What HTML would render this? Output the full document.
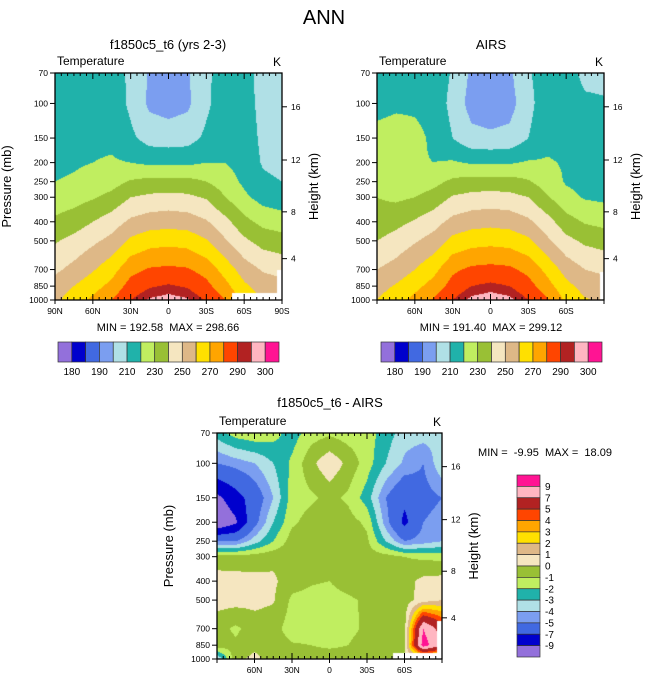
<!DOCTYPE html>
<html><head><meta charset="utf-8">
<style>
html,body{margin:0;padding:0;background:#fff;}
#wrap{position:relative;width:648px;height:684px;overflow:hidden;font-family:"Liberation Sans",sans-serif;}
canvas{position:absolute;}
svg{position:absolute;left:0;top:0;}
text{white-space:pre;}
</style></head>
<body>
<div id="wrap">
<canvas id="c1"></canvas>
<canvas id="c2"></canvas>
<canvas id="c3"></canvas>
<svg id="s" width="648" height="684"></svg>
</div>
<script>
// ---- data ----
const lats=[90,75,60,45,30,15,0,-15,-30,-45,-60,-75,-90];
const pLevels=[70,100,150,200,250,300,400,500,700,850,1000];
const modelT=[
[214,214,215,215,208,199,198,199,208,215,214,206,205],
[214,215,216,216,208,198,196,198,208,216,214,207,206],
[216,217,218,218,212,206,205,206,212,217,215,208,206],
[218,219,220,221,220,218,218,218,220,220,216,209,207],
[220,221,223,226,231,233,233,233,230,225,218,212,210],
[224,226,229,233,240,242,243,242,239,230,222,216,214],
[232,235,240,245,252,255,256,255,251,243,233,227,225],
[239,243,248,253,262,266,267,266,261,251,242,236,234],
[248,253,259,266,277,281,282,281,276,266,255,249,247],
[254,260,266,273,284,289,291,289,283,273,262,255,253],
[258,265,272,280,290,296,298,296,289,280,267,260,258]];
const airsT=[
[215,215,216,216,209,198,196,198,209,215,215,207,207],
[216,218,218,216,207,196,194,196,207,216,216,212,211],
[224,225,223,218,210,203,202,203,210,217,218,216,215],
[225,225,221,220,221,219,219,219,221,221,219,217,216],
[225,223,224,227,232,234,234,234,231,225,219,217,216],
[230,228,230,234,241,243,244,243,240,231,223,219,218],
[234,237,241,246,253,256,257,256,252,244,234,229,227],
[240,244,249,254,263,266,267,266,262,252,243,238,236],
[250,254,260,267,278,282,283,282,277,267,256,250,248],
[256,261,267,274,284,290,292,290,284,274,263,256,254],
[260,266,273,281,290,297,299,297,290,281,268,261,258]];
const diffT=[
[-2.5,-1.5,-1.2,-1.6,-2.5,-1.5,-1.2,-1.5,-1.5,-2.5,-3.5,-3.5,-3.8],
[-5,-4.5,-4,-3,-1.8,-0.3,0.8,-0.3,-1.5,-3,-4.2,-5,-3.2],
[-9.5,-7.8,-6,-4,-1.5,-1.2,-0.7,-1.2,-2.5,-5,-6.5,-5.5,-5],
[-11,-9.3,-5.5,-3,-1.2,-0.6,-0.5,-0.6,-1.2,-4.5,-7.5,-5,-4.5],
[-5,-5,-3.5,-2,-0.5,-0.4,-0.3,-0.4,-0.8,-3,-5,-4.5,-4],
[-0.5,-0.6,-0.5,-0.3,-0.4,-0.5,-0.4,-0.6,-0.5,-0.6,-1,-1.2,-1.3],
[0.4,0.4,0.3,0.2,-0.6,-0.9,-1,-0.5,-0.3,-0.6,-0.4,0.3,0.4],
[0.4,0.4,0.3,0.1,-1.2,-1.3,-1.4,-1.2,-0.8,-0.6,-0.5,0.5,1],
[-0.6,-1.2,-0.5,-0.6,-1.5,-1.4,-1.2,-1.3,-0.8,-0.5,-0.4,9,6],
[-0.4,-0.8,-0.3,-0.5,-0.9,-1.0,-1.2,-1.0,-0.5,-0.3,-0.2,10,7],
[-4,-0.3,0.3,-0.5,-0.3,-0.5,-0.4,-0.5,-0.4,-0.2,0,0,0]];
const tLevels=[180,185,190,200,210,220,230,240,250,260,270,280,290,295,300];
const tLabels=["180","190","210","230","250","270","290","300"];
const tLabelIdx=[0,2,4,6,8,10,12,14];
const dLevels=[-9,-7,-5,-4,-3,-2,-1,0,1,2,3,4,5,7,9];
const colors=["#9370db","#0000cd","#4169e1","#7b9ef0","#b0e0e6","#20b2aa","#c0ee60","#99c035","#f5e6c0","#deb887","#ffe000","#ffa500","#ff4500","#b22222","#ffb6c1","#ff1493"];
const pTicks=[70,100,150,200,250,300,400,500,700,850,1000];
const hTicks=[4,8,12,16];
const hPress=[616,356,194,104];
const latTicks=[90,60,30,0,-30,-60,-90];
const latNames=["90N","60N","30N","0","30S","60S","90S"];

// ---- geometry ----
const P=[{x:55,y:73,w:227,h:227},{x:377,y:73,w:227,h:227},{x:217,y:433,w:225,h:226}];
const NS="http://www.w3.org/2000/svg";
const svg=document.getElementById('s');
function xOf(pn,lat){return pn.x+(90-lat)/180*pn.w;}
function yOf(pn,p){return pn.y+Math.log(p/70)/Math.log(1000/70)*pn.h;}
function el(tag,attrs,txt){const e=document.createElementNS(NS,tag);for(const k in attrs)e.setAttribute(k,attrs[k]);if(txt!==undefined)e.textContent=txt;svg.appendChild(e);return e;}
function text(x,y,s,size,anchor,name,extra){const t=el('text',Object.assign({x:x,y:y,'font-size':size,'text-anchor':anchor||'middle','font-family':'Liberation Sans, sans-serif',fill:'#000'},extra||{}),s);


return t;}

function sample(grid,lat,p){
  let li=(90-lat)/15; li=Math.max(0,Math.min(11.9999,li)); const i0=Math.floor(li),fx=li-i0;
  const lp=Math.log(p); let j0=0;
  for(let j=0;j<pLevels.length-1;j++){if(lp>=Math.log(pLevels[j]))j0=j;}
  j0=Math.min(j0,pLevels.length-2);
  let fy=(lp-Math.log(pLevels[j0]))/(Math.log(pLevels[j0+1])-Math.log(pLevels[j0]));fy=Math.max(0,Math.min(1,fy));
  const a=grid[j0][i0],b=grid[j0][i0+1],c=grid[j0+1][i0],d=grid[j0+1][i0+1];
  return (a*(1-fx)+b*fx)*(1-fy)+(c*(1-fx)+d*fx)*fy;
}
function hex(c){return [parseInt(c.slice(1,3),16),parseInt(c.slice(3,5),16),parseInt(c.slice(5,7),16)];}
const rgb=colors.map(hex);
function colorIdx(v,levels){let k=0;while(k<levels.length&&v>=levels[k])k++;return k;}
function render(id,pn,grid,levels,missing){
  const cv=document.getElementById(id);cv.width=pn.w;cv.height=pn.h;cv.style.left=pn.x+'px';cv.style.top=pn.y+'px';
  const ctx=cv.getContext('2d');const img=ctx.createImageData(pn.w,pn.h);
  for(let yy=0;yy<pn.h;yy++){const p=70*Math.pow(1000/70,(yy+0.5)/pn.h);
    for(let xx=0;xx<pn.w;xx++){const lat=90-(xx+0.5)/pn.w*180;
      let c=[255,255,255];
      if(!missing(lat,p)){c=rgb[colorIdx(sample(grid,lat,p),levels)];}
      const o=(yy*pn.w+xx)*4;img.data[o]=c[0];img.data[o+1]=c[1];img.data[o+2]=c[2];img.data[o+3]=255;}}
  ctx.putImageData(img,0,0);
}
render('c1',P[0],modelT,tLevels,(lat,p)=>(lat<-50.5&&p>925)||(lat<-86&&p>700));
render('c2',P[1],airsT,tLevels,(lat,p)=>(lat<-87&&p>720));
render('c3',P[2],diffT,dLevels,(lat,p)=>(lat<-50.5&&p>930)||(lat<-86&&p>640));

// ---- axes ----
function axes(pn,k,showPressTitle,latShow){
  el('rect',{x:pn.x,y:pn.y,width:pn.w,height:pn.h,fill:'none',stroke:'#000','stroke-width':1.3,});
  pTicks.forEach(p=>{const y=yOf(pn,p);
    el('line',{x1:pn.x-5,x2:pn.x,y1:y,y2:y,stroke:'#000'});
    text(pn.x-7,y+3,String(p),8.5,'end','pressure-tick-label');});
  hTicks.forEach((h,i)=>{const y=yOf(pn,hPress[i]);
    el('line',{x1:pn.x+pn.w,x2:pn.x+pn.w+5,y1:y,y2:y,stroke:'#000'});
    text(pn.x+pn.w+9,y+3,String(h),8.5,'start','height-tick-label');});
  for(let lat=90;lat>=-90;lat-=5){const x=xOf(pn,lat);const maj=lat%30===0;
    el('line',{x1:x,x2:x,y1:pn.y,y2:pn.y+(maj?6:3),stroke:'#000'});
    el('line',{x1:x,x2:x,y1:pn.y+pn.h,y2:pn.y+pn.h-(maj?6:3),stroke:'#000'});
    if(maj)el('line',{x1:x,x2:x,y1:pn.y+pn.h,y2:pn.y+pn.h+4,stroke:'#000'});}
  latTicks.forEach((l,i)=>{if(latShow.indexOf(i)<0)return;text(xOf(pn,l),pn.y+pn.h+14,latNames[i],8.5,'middle','latitude-tick-label');});
  text(pn.x+2,pn.y-8,'Temperature',12,'start','variable-label');
  text(pn.x+pn.w-1,pn.y-7,'K',12,'end','units-label');
  const yt=pn.y+pn.h/2;
  if(showPressTitle)text(pn.x-44,yt,'Pressure (mb)',13,'middle','pressure-axis-title',{transform:`rotate(-90 ${pn.x-44} ${yt})`});
  text(pn.x+pn.w+36,yt,'Height (km)',13,'middle','height-axis-title',{transform:`rotate(-90 ${pn.x+pn.w+36} ${yt})`});
}
axes(P[0],'model',true,[0,1,2,3,4,5,6]);
axes(P[1],'airs',false,[1,2,3,4,5]);
axes(P[2],'diff',true,[1,2,3,4,5]);

text(324,24,'ANN',20,'middle','figure-title');
text(168,49,'f1850c5_t6 (yrs 2-3)',13,'middle','model-panel-title');
text(491,49,'AIRS',13,'middle','airs-panel-title');
text(330,407,'f1850c5_t6 - AIRS',13,'middle','difference-panel-title');
text(168,331,'MIN = 192.58  MAX = 298.66',11,'middle','model-min-max');
text(491,331,'MIN = 191.40  MAX = 299.12',11,'middle','airs-min-max');
text(545,456,'MIN =  -9.95  MAX =  18.09',11,'middle','difference-min-max');

// ---- colorbars ----
function hbar(x0,k){const w=221/16;
  colors.forEach((c,i)=>{const r=el('rect',{x:x0+i*w,y:342,width:w,height:20,fill:c,stroke:'#333','stroke-width':0.7});
    
    });
  tLabelIdx.forEach((b,i)=>text(x0+(b+1)*w,375,tLabels[i],10,'middle','colorbar-label'));
}
hbar(58,'model');hbar(381,'airs');
(function(){const x0=517,y0=475,h=182/16;
  for(let i=0;i<16;i++){const r=el('rect',{x:x0,y:y0+i*h,width:23,height:h,fill:colors[15-i],stroke:'#333','stroke-width':0.7});
    
    }
  for(let b=0;b<15;b++){const v=dLevels[14-b];text(x0+28,y0+(b+1)*h+3.5,String(v),10,'start','diff-colorbar-label');}
})();
</script>
</body></html>
